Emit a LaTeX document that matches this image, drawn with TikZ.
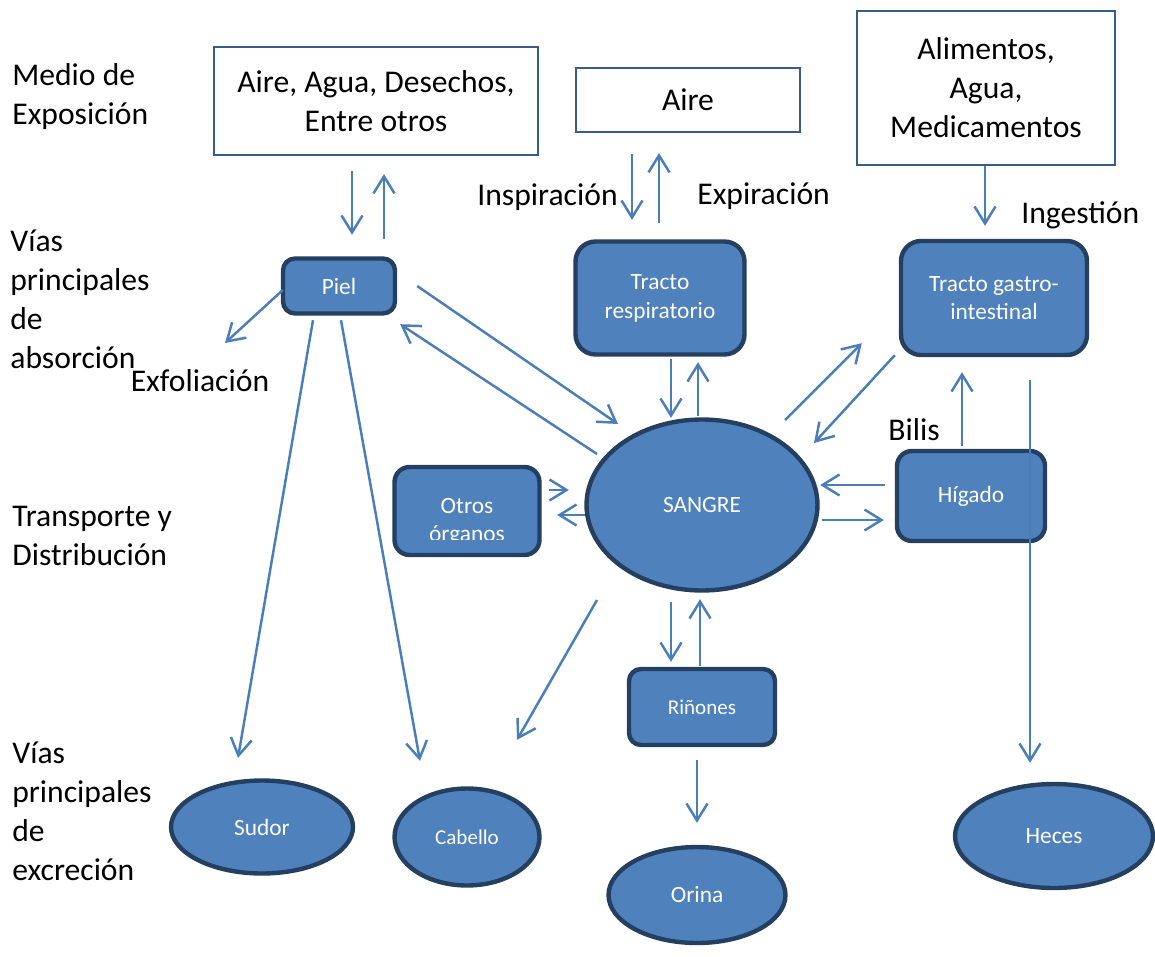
\documentclass[tikz,border=0pt]{standalone}
\usepackage{fontspec}
\setmainfont{Carlito}
\usetikzlibrary{shapes.geometric,arrows.meta,calc}

\definecolor{azul}{HTML}{4F81BD}
\definecolor{azuloscuro}{HTML}{243F60}
\definecolor{flechaazul}{HTML}{4A7EBB}
\definecolor{bordecaja}{HTML}{385D8A}

\newcommand{\letragrande}{\fontsize{18}{22.2}\selectfont}
\newcommand{\letramedia}{\fontsize{13.3}{16.4}\selectfont}
\newcommand{\letrachica}{\fontsize{12}{16.4}\selectfont}

\tikzset{
  caja/.style={draw=bordecaja, line width=1.2pt, fill=white, align=center, font=\letragrande, inner sep=0pt},
  organo/.style={draw=azuloscuro, fill=azul, line width=2.5pt, rounded corners=0.3cm, text=white, align=center, font=\letramedia, inner sep=0pt},
  salida/.style={ellipse, draw=azuloscuro, fill=azul, line width=2.5pt, text=white, font=\letramedia, inner sep=0pt},
  flecha/.style={flechaazul, line width=1.4pt, -{Straight Barb[length=0.34cm, width=0.42cm]}},
  etiqueta/.style={font=\letragrande, align=left, inner sep=0pt},
}

\begin{document}
\begin{tikzpicture}[x=0.02cm, y=-0.02cm]
    \useasboundingbox (0,0) rectangle (1155,956);

    % Etapas (columna izquierda)
    \node[etiqueta, anchor=west] (expo) at (12,97) {Medio de\\Exposición};
    \node[etiqueta, anchor=west] (absorcion) at (10,299) {Vías\\principales\\de\\absorción};
    \node[etiqueta, anchor=west] (transporte) at (12,536) {Transporte y\\Distribución};
    \node[etiqueta, anchor=west] (excrecion) at (12,811) {Vías\\principales\\de\\excreción};

    % Medio de exposicion
    \node[caja, minimum width=6.48cm, minimum height=2.16cm] (medio) at (376,101) {Aire, Agua, Desechos,\\Entre otros};
    \node[caja, minimum width=4.48cm, minimum height=1.28cm] (aire) at (688,100) {Aire};
    \node[caja, minimum width=5.16cm, minimum height=3.08cm] (alimentos) at (986,88) {Alimentos,\\Agua,\\Medicamentos};

    % Vias de absorcion
    \node[organo, rounded corners=0.24cm, minimum width=2.24cm, minimum height=1.1cm] (piel) at (339,286) {Piel};
    \node[organo, rounded corners=0.4cm, minimum width=3.38cm, minimum height=2.26cm] (respiratorio) at (660,298) {Tracto\\respiratorio};
    \node[organo, rounded corners=0.4cm, minimum width=3.72cm, minimum height=2.28cm] (gastro) at (994,298) {Tracto gastro-\\intestinal};

    % Transporte y distribucion
    \node[salida, minimum width=4.62cm, minimum height=3.42cm] (sangre) at (702,505) {SANGRE};
    \node[organo, minimum width=2.96cm, minimum height=1.8cm] (higado) at (971,496) {Hígado};
    \node[organo, minimum width=2.9cm, minimum height=1.76cm] (otros) at (467,511) {};
    \begin{scope}
      \clip ($(otros.north west)+(4,4)$) rectangle ($(otros.east)+(-4,28)$);
      \node[organo, draw=none, fill=none] (otrostexto) at (467,522) {Otros\\órganos};
    \end{scope}
    \node[organo, font=\letrachica, rounded corners=0.24cm, minimum width=2.92cm, minimum height=1.52cm] (rinones) at (702,707) {Riñones};

    % Vias de excrecion
    \node[salida, minimum width=3.64cm, minimum height=1.86cm] (sudor) at (262,827) {Sudor};
    \node[salida, font=\letrachica, minimum width=2.9cm, minimum height=1.94cm] (cabello) at (467,837) {Cabello};
    \node[salida, minimum width=3.54cm, minimum height=1.92cm] (orina) at (697,895) {Orina};
    \node[salida, minimum width=3.96cm, minimum height=2.08cm] (heces) at (1054,836) {Heces};

    % Rotulos de las flechas
    \node[etiqueta, anchor=east] (inspiracion) at (618,197) {Inspiración};
    \node[etiqueta, anchor=west] (expiracion) at (697,196) {Expiración};
    \node[etiqueta, anchor=west] (ingestion) at (1021,215) {Ingestión};
    \node[etiqueta] (exfoliacion) at (200,381) {Exfoliación};
    \node[etiqueta] (bilis) at (914,430) {Bilis};
    \coordinate (exfol) at (225,343);

    % Entrada desde el medio
    \draw[flecha] ($(medio.south)+(-24,15)$) -- ($(piel.north)+(13,-21.5)$);
    \draw[flecha] ($(piel.north)+(45,-17.5)$) -- ($(medio.south)+(8,18)$);
    \draw[flecha] ($(aire.south)+(-56,21)$) -- ($(respiratorio.north)+(-28,-19.5)$);
    \draw[flecha] ($(respiratorio.north)+(-1,-16.5)$) -- ($(aire.south)+(-29,20)$);
    \draw[flecha] ($(alimentos.south)+(-1,0)$) -- ($(gastro.north)+(-9,-13)$);

    % Piel
    \draw[flecha] ($(piel.west)+(2,4)$) -- (exfol);
    \draw[flecha] ($(piel.east)+(20,0)$) -- ($(sangre)+(-84,-81)$);
    \draw[flecha] ($(sangre)+(-105,-51)$) -- ($(piel.south east)+(3,8.5)$);
    \draw[flecha] ($(piel.south)+(-26,4.5)$) -- ($(sudor.north)+(-24,-20.5)$);
    \draw[flecha] ($(piel.south)+(2,4.5)$) -- ($(cabello.north)+(-47,-25.5)$);

    % Tractos
    \draw[flecha] ($(respiratorio.south)+(11,2.5)$) -- ($(sangre.north)+(-31,0.5)$);
    \draw[flecha] ($(sangre.north)+(-4,-1.5)$) -- ($(respiratorio.south)+(38,5.5)$);
    \draw[flecha] ($(sangre)+(83,-85)$) -- ($(gastro.south west)+(-37,-14)$);
    \draw[flecha] ($(gastro.south west)+(-4,-2)$) -- ($(sangre)+(112,-62)$);
    \draw[flecha] ($(gastro.south)+(36,23)$) -- ($(heces.north)+(-24,-19)$);

    % Higado y otros organos
    \draw[flecha] ($(higado.north)+(-9,-3)$) -- ($(gastro.south)+(-32,15)$);
    \draw[flecha] ($(higado.west)+(-10,-11)$) -- ($(sangre.east)+(0.5,-20)$);
    \draw[flecha] ($(sangre.east)+(2.5,15)$) -- ($(higado.west)+(-11,24)$);
    \draw[flecha] ($(otros.east)+(7.5,-21)$) -- ($(sangre.west)+(-15.5,-15)$);
    \draw[flecha] ($(sangre.west)+(0.5,10)$) -- ($(otros.east)+(15.5,4)$);

    % Excrecion
    \draw[flecha] ($(sangre)+(-105,95)$) -- ($(cabello.north)+(50,-46.5)$);
    \draw[flecha] ($(sangre.south)+(-31,9.5)$) -- ($(rinones.north)+(-31,-5)$);
    \draw[flecha] ($(rinones.north)+(-2,-1)$) -- ($(sangre.south)+(-2,6.5)$);
    \draw[flecha] ($(rinones.south)+(-5,13)$) -- ($(orina.north)+(0,-22)$);
\end{tikzpicture}
\end{document}
